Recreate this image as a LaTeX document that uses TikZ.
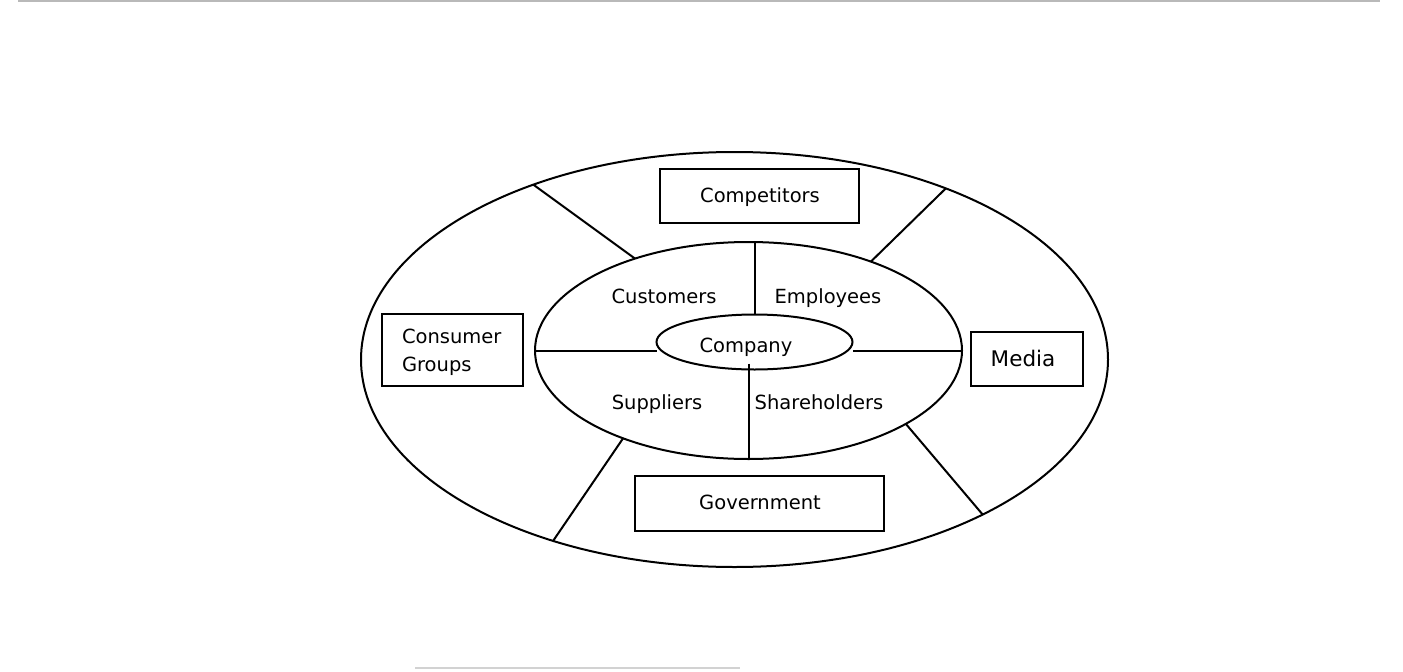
\documentclass[tikz,border=0pt]{standalone}
\usepackage{fontspec}
\setmainfont{DejaVu Sans}
\usetikzlibrary{shapes.geometric}
\begin{document}
\begin{tikzpicture}[x=1pt,y=-1pt,
  line width=2pt,
  ell/.style={draw, ellipse, inner sep=0pt, outer sep=0pt},
  box/.style={draw, rectangle, inner sep=0pt, outer sep=0pt},
  lbl/.style={font=\fontsize{19.5}{27}\selectfont, inner sep=0pt},
  bl/.style={lbl, anchor=base},
  spoke/.style={draw},
  edge/.style={draw=gray!55, line width=2.5pt}]
\useasboundingbox (0,0) rectangle (1403,672);
\fill[white] (0,0) rectangle (1403,672);
% page edges
\coordinate (tl) at (18,1);
\coordinate (tr) at (1380,1);
\coordinate (bl) at (415,668);
\coordinate (br) at (740,668);
\draw[edge] (tl) -- (tr);
\draw[edge, draw=gray!35] (bl) -- (br);
% ellipses
\node[ell, minimum width=747pt, minimum height=415pt] (outer) at (734.5,359.5) {};
\node[ell, minimum width=427pt, minimum height=217pt] (mid) at (748.5,350.5) {};
\node[ell, minimum width=196pt, minimum height=55pt] (company) at (754.5,342) {};
\node[bl] (companyt) at (746,352) {Company};
% boxes
\node[box, minimum width=199pt, minimum height=54pt] (comp) at (759.5,196) {};
\node[bl] at (760,202) {Competitors};
\node[box, minimum width=141pt, minimum height=72pt] (cons) at (452.5,350) {};
\node[lbl, align=left, anchor=west, font=\fontsize{19.5}{28}\selectfont] at (401,352) {Consumer\\Groups};
\node[box, minimum width=112pt, minimum height=54pt] (media) at (1027,359) {};
\node[lbl, anchor=base, font=\fontsize{21.5}{26}\selectfont] at (1023,366) {Media};
\node[box, minimum width=249pt, minimum height=55pt] (gov) at (759.5,503.5) {};
\node[bl] at (760,509) {Government};
% inner labels
\node[bl] (cust) at (664,303) {Customers};
\node[bl] (empl) at (828,303) {Employees};
\node[bl] (supp) at (657,409) {Suppliers};
\node[bl] (share) at (819,409) {Shareholders};
% inner dividers
\draw (company.north) -- (company.north |- mid.north);
\draw (mid.south |- company.south) ++(0,-6) -- (mid.south);
\draw (mid.west) -- (mid.west -| company.west);
\draw (mid.east) -- (mid.east -| company.east);
% spokes
\draw[spoke] (outer.139) -- (mid.141.4);
\draw[spoke] (outer.39.2) -- (mid.36.4);
\draw[spoke] (outer.225.2) -- (mid.215.5);
\draw[spoke] (outer.328.2) -- (mid.335.8);
\end{tikzpicture}
\end{document}
